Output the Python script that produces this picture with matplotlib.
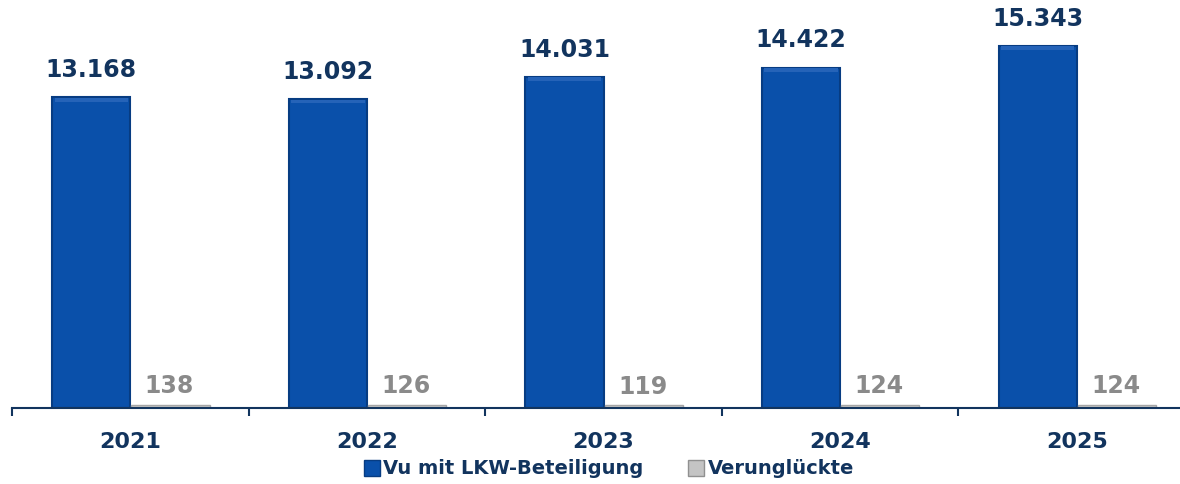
import numpy as np
import matplotlib.pyplot as plt
from matplotlib.patches import Rectangle

years = ['2021', '2022', '2023', '2024', '2025']
unfaelle = [13168, 13092, 14031, 14422, 15343]
verunglueckte = [138, 126, 119, 124, 124]
labels_u = ['13.168', '13.092', '14.031', '14.422', '15.343']
labels_v = ['138', '126', '119', '124', '124']

navy = '#12345e'
blue = '#0a50aa'
blue_edge = '#073c82'
grey = '#c4c4c4'

fig = plt.figure(figsize=(11.8, 4.84), dpi=100)
ax = fig.add_axes([12/1180, 1 - 408/484, 1183/1180, 408/484])

x = np.arange(len(years))
w = 0.33
ax.bar(x - w/2, unfaelle, width=w, color=blue, edgecolor=blue_edge, linewidth=1.5)
ax.bar(x + w/2 + 0.005, verunglueckte, width=w, color=grey, edgecolor='#a6a6a6', linewidth=1.0)

# subtle bevel on top of blue bars
for xi, v in zip(x, unfaelle):
    ax.add_patch(Rectangle((xi - w + 0.01, v - 180), w - 0.02, 160, color='#2563b8', lw=0))

for xi, v, t in zip(x, unfaelle, labels_u):
    ax.text(xi - w/2, v + 650, t, ha='center', va='bottom', fontsize=17,
            fontweight='bold', color=navy)
for xi, v, t in zip(x, verunglueckte, labels_v):
    ax.text(xi + w/2, v + 280, t, ha='center', va='bottom', fontsize=17,
            fontweight='bold', color='#8a8a8a')

ax.set_xlim(-0.5, 4.5)
ax.set_ylim(0, 15343 * 408 / 362)
for s in ['top', 'right', 'left']:
    ax.spines[s].set_visible(False)
ax.spines['bottom'].set_color(navy)
ax.spines['bottom'].set_linewidth(1.5)
ax.set_yticks([])
ax.set_xticks(np.arange(-0.5, 5, 1))
ax.set_xticklabels([])
ax.tick_params(axis='x', direction='out', length=6, width=1.5, color=navy)
ax.set_xticks(x, minor=True)
ax.set_xticklabels(years, minor=True)
ax.tick_params(axis='x', which='minor', length=0, pad=17, labelsize=16,
               labelcolor=navy)
for lab in ax.get_xticklabels(minor=True):
    lab.set_fontweight('bold')

h1 = plt.Line2D([], [], marker='s', ls='', color=blue, markeredgecolor=blue_edge, markersize=11)
h2 = plt.Line2D([], [], marker='s', ls='', color=grey, markeredgecolor='#909090', markersize=11)
leg = fig.legend([h1, h2], ['Vu mit LKW-Beteiligung', 'Verunglückte'], loc='center',
                 bbox_to_anchor=(608/1180, 1 - 469/484), ncol=2, frameon=False,
                 prop={'weight': 'bold', 'size': 14}, handletextpad=0.1,
                 columnspacing=2.2, handlelength=1.0)
for t in leg.get_texts():
    t.set_color(navy)

fig.savefig('out.png', dpi=100)
